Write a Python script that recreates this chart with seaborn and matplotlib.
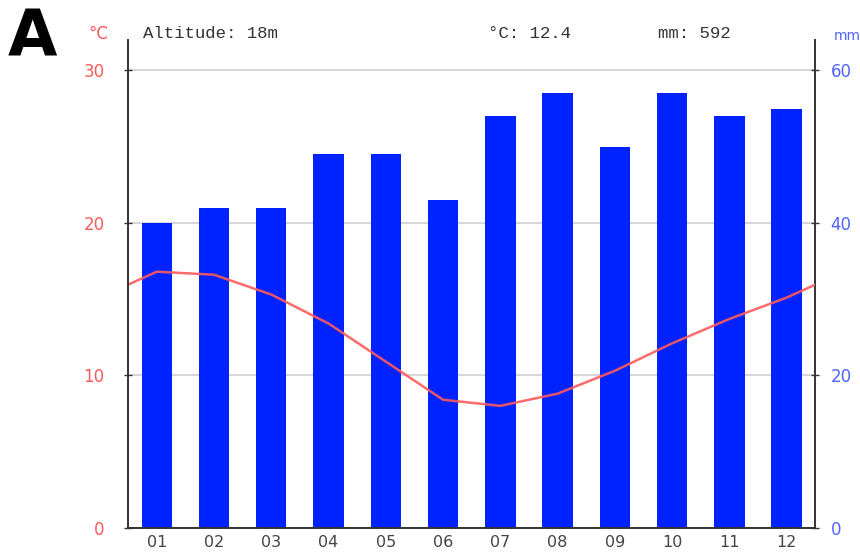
import numpy as np
import pandas as pd
import matplotlib
matplotlib.use('Agg')
import matplotlib.pyplot as plt
import seaborn as sns

# climate data
months = ['01', '02', '03', '04', '05', '06', '07', '08', '09', '10', '11', '12']
precip_mm = [40, 42, 42, 49, 49, 43, 54, 57, 50, 57, 54, 55]
temp_c = [16.8, 16.6, 15.3, 13.4, 10.9, 8.4, 8.0, 8.8, 10.3, 12.1, 13.7, 15.1]
temp_ticks = [0, 10, 20, 30]
mm_ticks = [0, 20, 40, 60]

sns.set_theme(style="white")
plt.rcParams['font.family'] = ['DejaVu Sans']

red = '#ff5a5a'
blue = '#0022ff'
label_blue = '#4f63ff'

df = pd.DataFrame({'month': months, 'mm': precip_mm, 'temp': temp_c})

fig = plt.figure(figsize=(8.6, 5.55), dpi=100)
ax = fig.add_axes([0.149, 0.049, 0.799, 0.879])
ax2 = ax.twinx()

# precipitation bars (behind)
sns.barplot(data=df, x='month', y='mm', ax=ax2, color=blue, width=0.53,
            saturation=1, edgecolor='none')
ax2.set_ylim(0, 64)
ax2.set_yticks(mm_ticks)
ax2.grid(axis='y', color='#d0d0d0', linewidth=1.2)
ax2.set_axisbelow(True)

# temperature line, wrapped to the edges with the Dec/Jan mean
edge = (temp_c[0] + temp_c[-1]) / 2
line_x = np.r_[-0.5, np.arange(len(months)), len(months) - 0.5]
line_y = np.r_[edge, temp_c, edge]
ax.set_zorder(ax2.get_zorder() + 1)
ax.patch.set_visible(False)
sns.lineplot(x=line_x, y=line_y, ax=ax, color=red, linewidth=1.8, alpha=0.9)
ax.set_ylim(0, 32)
ax.set_xlim(-0.5, 11.5)
ax.set_yticks(temp_ticks)

# x axis: labels under bars, ticks between months
ax.set_xticks(np.arange(len(months)))
ax.set_xticklabels(months)
ax.set_xticks(np.arange(-0.5, 12, 1), minor=True)
ax.tick_params(axis='x', which='major', length=0, pad=5, labelsize=11.5, labelcolor='#444444')
ax.tick_params(axis='x', which='minor', length=4, width=1.2, color='#333333', direction='out')
ax.tick_params(axis='y', length=6, width=1, color='#333333', direction='inout',
               labelsize=12, labelcolor=red, pad=14)
ax2.tick_params(axis='y', length=6, width=1, color='#333333', direction='inout',
                labelsize=12, labelcolor=label_blue, pad=8)
ax2.set_xlabel('')
ax2.set_ylabel('')
ax.set_xlabel('')
ax.set_ylabel('')

for a in (ax, ax2):
    a.spines['top'].set_visible(False)
    for s in ('left', 'right', 'bottom'):
        a.spines[s].set_color('#333333')
        a.spines[s].set_linewidth(1.4)
ax.spines['right'].set_visible(False)
ax2.spines['left'].set_visible(False)
ax2.spines['bottom'].set_visible(False)

# header texts
mono = ['Liberation Mono', 'DejaVu Sans Mono']
fig.text(143 / 860, 1 - 34 / 555, 'Altitude: 18m', family=mono, fontsize=12.5,
         color='#333333', va='center')
fig.text(488 / 860, 1 - 34 / 555, '°C: 12.4', family=mono, fontsize=12.5,
         color='#333333', va='center')
fig.text(658 / 860, 1 - 34 / 555, 'mm: 592', family=mono, fontsize=12.5,
         color='#333333', va='center')
fig.text(108 / 860, 1 - 34 / 555, '°C', fontsize=12, color=red, ha='right', va='center')
fig.text(834 / 860, 1 - 36 / 555, 'mm', fontsize=10, color=label_blue, ha='left', va='center')
fig.text(8 / 860, 1 - 8 / 555, 'A', fontsize=46, fontweight='bold', color='black',
         ha='left', va='top')

fig.savefig('out.png', dpi=100)
plt.close()
